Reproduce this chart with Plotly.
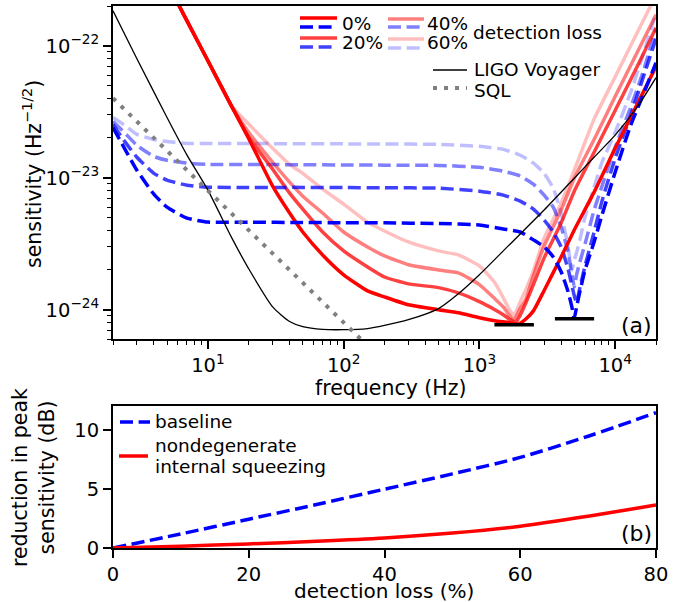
import math
import plotly.graph_objects as go

# ---------------- data (sensitivities in units of 1e-24 Hz^-1/2) ----------------
freq_red = [5, 7, 10, 15, 20, 30, 40, 50, 70, 100, 150, 200, 300, 500, 700, 1000,
            1300, 1500, 1650, 1780, 1860, 1930, 2000, 2200, 2500, 3000, 4000, 5000, 7000,
            10000, 15000, 20000]
red_0 = [301, 155, 77, 34.6, 19.8, 8.63, 5.40, 3.88, 2.60, 1.84, 1.39, 1.25,
         1.09, 1.0, 0.949, 0.870, 0.826, 0.81, 0.80, 0.785, 0.778, 0.778, 0.79, 0.85, 0.98,
         1.40, 2.51, 4.02, 7.78, 16.7, 38.4, 69.5]
red_20 = [301, 155, 77, 34.6, 20.3, 11.6, 7.64, 5.78, 3.88, 2.79, 2.11, 1.77,
          1.57, 1.47, 1.34, 1.15, 1.0, 0.917, 0.855, 0.815, 0.80, 0.855, 0.91, 1.13, 1.55,
          2.47, 4.54, 7.91, 15.6, 32.3, 74.4, 136.7]
red_40 = [301, 155, 77, 34.6, 22.0, 13.1, 9.25, 7.25, 5.40, 3.88, 2.99, 2.56,
          2.19, 2.00, 1.90, 1.55, 1.21, 1.05, 0.917, 0.84, 0.885, 0.949, 1.02, 1.2, 1.81,
          3.04, 5.69, 9.91, 19.5, 41.2, 94.9, 171.4]
red_60 = [301, 155, 77, 35.0, 25.5, 16.7, 12.6, 10.8, 8.19, 6.31, 4.61, 3.95,
          3.26, 2.79, 2.60, 2.15, 1.60, 1.23, 1.02, 0.91, 0.965, 1.05, 1.15, 1.42, 1.97,
          3.49, 6.42, 11.4, 27.8, 58, 134, 241]

freq_blue = [2, 2.5, 3, 4, 5, 7, 10, 20, 50, 100, 200, 500, 1000, 1500, 2000, 2500, 3000,
             3500, 4000, 4500, 4800, 5000, 5200, 5500, 6000, 7000, 8000, 10000, 13000,
             16000, 20000]
blue_0 = [24.0, 15.85, 11.4, 7.50, 5.98, 4.95, 4.61, 4.60, 4.58, 4.56, 4.55, 4.50, 4.38,
          4.09, 3.88, 3.38, 2.99, 2.51, 1.94, 1.37, 1.05, 0.86, 1.05, 1.37, 2.00, 3.26, 5.21,
          11.0, 24.9, 41.9, 74.4]
blue_20 = [25.3, 18.2, 14.3, 10.8, 9.58, 8.78, 8.48, 8.45, 8.45, 8.42, 8.40, 8.33, 7.91,
           7.38, 6.65, 5.78, 4.78, 3.88, 2.99, 2.04, 1.52, 1.28, 1.13, 1.47, 2.15, 3.88,
           6.65, 14.0, 29.6, 56.4, 113]
blue_40 = [26.7, 21.3, 17.6, 14.5, 13.55, 12.9, 12.6, 12.6, 12.55, 12.5, 12.45, 12.4, 12.0,
           11.2, 10.3, 8.93, 7.38, 5.98, 4.23, 2.74, 1.87, 1.49, 1.84, 2.30, 3.15, 5.69,
           8.63, 17.0, 34.0, 62.5, 134.4]
blue_60 = [28.6, 24.5, 21.3, 19.5, 18.8, 18.2, 18.2, 18.15, 18.1, 18.05, 18.0, 17.9, 17.3,
           16.4, 14.8, 12.9, 10.8, 8.33, 5.40, 3.0, 2.00, 2.38, 2.71, 3.38, 5.04, 8.48,
           13.1, 22.0, 44.2, 84.1, 177.4]

freq_voyager = [2, 3, 5, 7, 10, 15, 20, 30, 40, 50, 70, 100, 150, 200, 300, 500, 700, 1000,
                1500, 2000, 3000, 5000, 7000, 10000, 15000, 20000]
voyager = [183.7, 79.8, 28.6, 14.9, 8.05, 3.5, 2.04, 1.05, 0.815, 0.745, 0.71, 0.706, 0.72,
           0.76, 0.84, 1.02, 1.32, 1.84, 2.79, 3.75, 5.69, 9.91, 14.3, 21.0, 36.0, 57.3]

freq_sql = [2, 200]
sql = [40.0, 0.40]

peak_red_f = [1290, 2520]
peak_red_s = [0.77, 0.77]
peak_blue_f = [3600, 7000]
peak_blue_s = [0.855, 0.855]

loss_pct = [0, 10, 20, 30, 40, 50, 60, 70, 80]
baseline_db = [0, 1.2, 2.45, 3.7, 5.0, 6.3, 7.7, 9.5, 11.5]
nisq_db = [0, 0.15, 0.35, 0.57, 0.85, 1.27, 1.85, 2.7, 3.65]

loss_labels = ["0%", "20%", "40%", "60%"]
alphas = [1.0, 0.75, 0.5, 0.25]

x_major = [10, 100, 1000, 10000]
x_major_text = ["10<sup>1</sup>", "10<sup>2</sup>", "10<sup>3</sup>", "10<sup>4</sup>"]
y_major = [1e-24, 1e-23, 1e-22]
y_major_text = ["10<sup>−24</sup>", "10<sup>−23</sup>", "10<sup>−22</sup>"]

# ---------------- layout geometry ----------------
W, H = 687, 602
ML, MR, MT, MB = 113, 31, 6, 54
PW, PH = W - ML - MR, H - MT - MB


def px(x):
    return (x - ML) / PW


def py(y):
    return (H - MB - y) / PH


FONT = "DejaVu Sans"
SC = 1e-24
DASH = "13px,5.6px"
LW = 3.5

fig = go.Figure()

red_sets = [red_0, red_20, red_40, red_60]
blue_sets = [blue_0, blue_20, blue_40, blue_60]
for i in [3, 2, 1, 0]:
    a = alphas[i]
    fig.add_trace(go.Scatter(
        x=freq_red, y=[v * SC for v in red_sets[i]], mode="lines",
        line=dict(color=f"rgba(255,0,0,{a})", width=LW, shape="spline", smoothing=0.5),
        xaxis="x", yaxis="y", hoverinfo="skip"))
    fig.add_trace(go.Scatter(
        x=freq_blue, y=[v * SC for v in blue_sets[i]], mode="lines",
        line=dict(color=f"rgba(0,0,255,{a})", width=LW, dash=DASH, shape="spline", smoothing=0.5),
        xaxis="x", yaxis="y", hoverinfo="skip"))

fig.add_trace(go.Scatter(
    x=freq_voyager, y=[v * SC for v in voyager], mode="lines",
    line=dict(color="black", width=1.3, shape="spline", smoothing=0.6),
    xaxis="x", yaxis="y", hoverinfo="skip"))
fig.add_trace(go.Scatter(
    x=freq_sql, y=[v * SC for v in sql], mode="lines",
    line=dict(color="rgb(128,128,128)", width=4, dash="4px,7px"),
    xaxis="x", yaxis="y", hoverinfo="skip"))
fig.add_trace(go.Scatter(
    x=peak_red_f, y=[v * SC for v in peak_red_s], mode="lines",
    line=dict(color="black", width=3.5), xaxis="x", yaxis="y", hoverinfo="skip"))
fig.add_trace(go.Scatter(
    x=peak_blue_f, y=[v * SC for v in peak_blue_s], mode="lines",
    line=dict(color="black", width=3.5), xaxis="x", yaxis="y", hoverinfo="skip"))

# bottom panel
fig.add_trace(go.Scatter(
    x=loss_pct, y=baseline_db, mode="lines",
    line=dict(color="rgb(0,0,255)", width=LW, dash=DASH, shape="spline", smoothing=0.8),
    xaxis="x2", yaxis="y2", hoverinfo="skip"))
fig.add_trace(go.Scatter(
    x=loss_pct, y=nisq_db, mode="lines",
    line=dict(color="rgb(255,0,0)", width=LW, shape="spline", smoothing=0.8),
    xaxis="x2", yaxis="y2", hoverinfo="skip"))

TICKFONT = dict(family=FONT, size=19.5, color="black")
axis_common = dict(showline=True, mirror=True, linecolor="black", linewidth=1.8,
                   ticks="outside", ticklen=8, tickwidth=1.6, tickcolor="black",
                   showgrid=False, zeroline=False, tickfont=TICKFONT, automargin=False)

x_minor = [d * m for d in [1, 10, 100, 1000, 10000] for m in range(2, 10) if 2 <= d * m <= 20000]
y_minor = [m * d for d in [1e-25, 1e-24, 1e-23, 1e-22] for m in range(2, 10)
           if 6e-25 <= m * d <= 2e-22]

fig.update_layout(
    width=W, height=H,
    margin=dict(l=ML, r=MR, t=MT, b=MB, autoexpand=False),
    plot_bgcolor="white", paper_bgcolor="white",
    showlegend=False,
    font=dict(family=FONT, color="black"),
    xaxis=dict(type="log", range=[math.log10(2), math.log10(2e4)], domain=[0, 1], anchor="y",
               tickmode="array", tickvals=x_major, ticktext=x_major_text,
               minor=dict(tickmode="array", tickvals=x_minor, ticks="outside", ticklen=4.5,
                          tickwidth=1.2, tickcolor="black"),
               **axis_common),
    yaxis=dict(type="log", range=[math.log10(6.0e-25), math.log10(2e-22)],
               domain=[py(339), 1], anchor="x",
               tickmode="array", tickvals=y_major, ticktext=y_major_text,
               minor=dict(tickmode="array", tickvals=y_minor, ticks="outside", ticklen=4.5,
                          tickwidth=1.2, tickcolor="black"),
               **axis_common),
    xaxis2=dict(range=[0, 80], domain=[0, 1], anchor="y2",
                tickmode="array", tickvals=[0, 20, 40, 60, 80], **axis_common),
    yaxis2=dict(range=[0, 12.07], domain=[0, py(406)], anchor="x2",
                tickmode="array", tickvals=[0, 5, 10], **axis_common),
)

shapes = []


def hline(x0, x1, y, color, width, dash=None):
    ln = dict(color=color, width=width)
    if dash:
        ln["dash"] = dash
    shapes.append(dict(type="line", xref="paper", yref="paper",
                       x0=px(x0), x1=px(x1), y0=py(y), y1=py(y), line=ln))


# top legend handles (red solid over blue dashed)
legend_pos = [(300, 337, 18, 27), (300, 337, 38, 47), (388, 424, 19, 27), (388, 424, 39, 48)]
for i, (x0, x1, yr, yb) in enumerate(legend_pos):
    hline(x0, x1, yr, f"rgba(255,0,0,{alphas[i]})", LW)
    hline(x0, x1, yb, f"rgba(0,0,255,{alphas[i]})", LW, DASH)
hline(433, 467, 70, "black", 1.3)
hline(433, 467, 88, "rgb(128,128,128)", 4, "4px,7px")
# bottom legend handles
hline(120, 150, 422, "rgb(0,0,255)", LW, DASH)
hline(119, 148, 456, "rgb(255,0,0)", LW)

annotations = []


def text(x, y, s, size=18.5, xanchor="left", angle=0):
    annotations.append(dict(x=px(x), y=py(y), xref="paper", yref="paper", text=s,
                            showarrow=False, xanchor=xanchor, yanchor="middle",
                            textangle=angle, borderpad=0,
                            font=dict(family=FONT, size=size, color="black")))


text(341, 23, loss_labels[0])
text(341, 43, loss_labels[1])
text(426, 23, loss_labels[2])
text(426, 43, loss_labels[3])
text(472, 32, "detection loss")
text(473, 70, "LIGO Voyager")
text(473, 90, "SQL")
text(154, 421, "baseline")
text(154, 445, "nondegenerate")
text(154, 466, "internal squeezing")
text(653, 325, "(a)", size=22, xanchor="right")
text(653, 533, "(b)", size=22, xanchor="right")

text(391, 388, "frequency (Hz)", size=20.5, xanchor="center")
text(384, 591, "detection loss (%)", size=20, xanchor="center")
text(32, 174, "sensitivity (Hz<sup>−1/2</sup>)", size=20.5, xanchor="center", angle=-90)
text(33, 478, "reduction in peak<br>sensitivity (dB)", size=20.5, xanchor="center", angle=-90)

fig.update_layout(shapes=shapes, annotations=annotations)

fig.write_html("out.html",
               config={"displayModeBar": False},
               post_script="document.body.style.margin='0px';document.body.style.padding='0px';")
